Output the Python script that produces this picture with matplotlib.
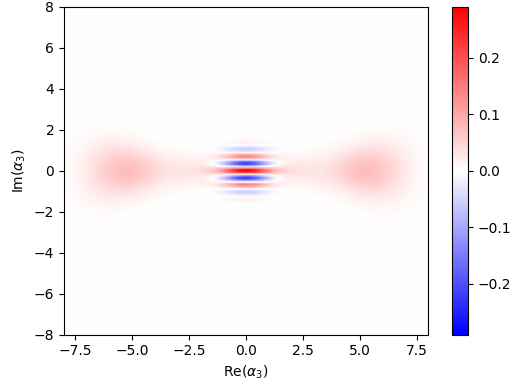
import numpy as np
import matplotlib
matplotlib.use("Agg")
import matplotlib.pyplot as plt
from matplotlib.ticker import MultipleLocator

# phase-space window and colour scale
re_lim = [-8.0, 8.0]
im_lim = [-8.0, 8.0]
w_max = 0.29
cbar_ticks = [-0.2, -0.1, 0.0, 0.1, 0.2]

# read-off shape parameters of the Wigner function
blob_centres = [-5.3, 5.3]      # Re positions of the two lobes
blob_amp = 0.075
blob_sx = 1.15
bridge_amp = 0.035
bridge_centre = 1.6
bridge_sx = 1.3
width_base = 0.22               # Im width grows with |Re|
width_slope = 0.12
fringe_amp = 0.27
fringe_sx = 0.7
fringe_sy = 0.6
fringe_period = 0.72

n = 500
re = np.linspace(re_lim[0], re_lim[1], n)
im = np.linspace(im_lim[0], im_lim[1], n)
X, Y = np.meshgrid(re, im)

# lobes with a thin ridge towards the centre
sy = width_base + width_slope * np.abs(X)
ridge = np.zeros_like(X)
for c in blob_centres:
    ridge += blob_amp * np.exp(-(X - c) ** 2 / (2 * blob_sx ** 2))
ridge += bridge_amp * np.exp(-(np.abs(X) - bridge_centre) ** 2 / (2 * bridge_sx ** 2))
W = ridge * np.exp(-Y ** 2 / (2 * sy ** 2))

# interference fringes
W += (fringe_amp * np.exp(-X ** 2 / (2 * fringe_sx ** 2))
      * np.exp(-Y ** 2 / (2 * fringe_sy ** 2))
      * np.cos(2 * np.pi * Y / fringe_period))

fig = plt.figure(figsize=(5.18, 3.86), dpi=100)
ax = fig.add_axes([0.1236, 0.133, 0.7027, 0.8496])
cax = fig.add_axes([0.8726, 0.133, 0.031, 0.8496])

mesh = ax.pcolormesh(X, Y, W, cmap='bwr', vmin=-w_max, vmax=w_max, shading='auto')
ax.set_xlim(re_lim)
ax.set_ylim(im_lim)
ax.xaxis.set_major_locator(MultipleLocator(2.5))
ax.set_xlabel(r'Re($\alpha_3$)')
ax.set_ylabel(r'Im($\alpha_3$)')

cb = fig.colorbar(mesh, cax=cax)
cb.set_ticks(cbar_ticks)

fig.savefig('out.png', dpi=100)
